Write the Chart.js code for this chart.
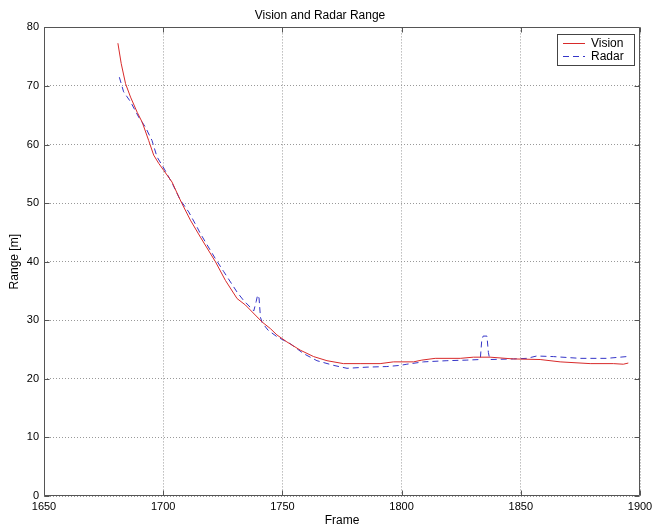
<!DOCTYPE html>
<html>
<head>
<meta charset="utf-8">
<script src="https://cdn.jsdelivr.net/npm/chart.js@4.4.0/dist/chart.umd.min.js"></script>
<style>
    html, body { margin: 0; padding: 0; background: #fff; }
</style>
</head>
<body>
<canvas id="rangeChart" width="652" height="531"></canvas>
<script>
// Vision (red, solid)
const visionFrames = [1681, 1682.4, 1684.2, 1686.3, 1689.1, 1691.2, 1693.9, 1696.0, 1698.1, 1700.2,
    1703.7, 1706.5, 1707.9, 1711.4, 1715.6, 1721.9, 1726.1, 1731.0, 1734.5,
    1738.6, 1741.5, 1744.9, 1747.7, 1751.9, 1757.5, 1763.1, 1768.7, 1775.6, 1782.6,
    1791.0, 1796.6, 1805.0, 1808.5, 1814.1, 1824.6, 1830.1, 1837.1, 1846.9, 1858.1,
    1866.5, 1879.1, 1888.8, 1893.0, 1895.1];
const visionRange = [77.3, 73.8, 70.4, 68.1, 65.5, 63.8, 60.7, 58.2, 56.8, 55.6,
    53.6, 51.1, 49.9, 47.1, 44.2, 40.0, 36.8, 33.7, 32.6,
    30.9, 29.7, 28.6, 27.5, 26.3, 24.9, 23.8, 23.1, 22.6, 22.6,
    22.6, 22.9, 22.9, 23.2, 23.5, 23.5, 23.7, 23.7, 23.4, 23.3,
    22.9, 22.6, 22.6, 22.5, 22.7];

// Radar (blue, dashed)
const radarFrames = [1681.6, 1683.4, 1686.3, 1689.7, 1692.5, 1695.3, 1697.4, 1700.5, 1704.0, 1707.2,
    1710.7, 1714.2, 1715.6, 1721.9, 1725.4, 1731.0, 1733.7, 1738.0, 1739.0, 1739.6,
    1740.2, 1740.8, 1741.5, 1744.0, 1747.7, 1753.3, 1758.9, 1764.5, 1771.5, 1777.1,
    1785.5, 1793.8, 1799.4, 1802.2, 1809.2, 1819.0, 1827.4, 1833.0, 1833.6, 1834.2,
    1835.8, 1836.4, 1837.0, 1846.9, 1852.5, 1856.7, 1863.7, 1874.9, 1886.0, 1894.4];
const radarRange = [71.5, 69.0, 67.3, 64.7, 63.0, 60.7, 57.9, 55.8, 53.2, 50.5,
    48.5, 45.9, 44.8, 40.5, 38.3, 34.8, 33.4, 31.6, 33.2, 34.3,
    33.8, 30.5, 29.6, 28.3, 27.2, 26.0, 24.3, 23.1, 22.3, 21.8,
    22.0, 22.1, 22.3, 22.5, 22.9, 23.1, 23.2, 23.3, 26.5, 27.3,
    27.3, 24.5, 23.3, 23.4, 23.5, 23.9, 23.8, 23.5, 23.5, 23.8];

const xTicks = [1650, 1700, 1750, 1800, 1850, 1900];
const yTicks = [0, 10, 20, 30, 40, 50, 60, 70, 80];

const VISION_COLOR = '#d82a2a';
const RADAR_COLOR = '#3535c8';
const RADAR_DASH = [6, 4];

const FONT = '"Liberation Sans", Arial, Helvetica, sans-serif';
Chart.defaults.font.family = FONT;
Chart.defaults.color = '#000';

function toPoints(xs, ys) {
    return xs.map((x, i) => ({ x: x, y: ys[i] }));
}

// box around the axes with inward ticks, plus the legend inside the plot
const axesBox = {
    id: 'axesBox',
    afterDraw(chart) {
        const { ctx, chartArea: a, scales: { x, y } } = chart;
        const L = Math.round(a.left) + 0.5, R = Math.round(a.right) - 0.5;
        const T = Math.round(a.top) + 0.5, B = Math.round(a.bottom) - 0.5;
        ctx.save();
        ctx.strokeStyle = '#555';
        ctx.lineWidth = 1;
        ctx.beginPath();
        ctx.rect(L, T, R - L, B - T);
        xTicks.forEach(v => {
            const px = Math.round(x.getPixelForValue(v)) + 0.5;
            ctx.moveTo(px, B); ctx.lineTo(px, B - 5);
            ctx.moveTo(px, T); ctx.lineTo(px, T + 5);
        });
        yTicks.forEach(v => {
            const py = Math.round(y.getPixelForValue(v)) + 0.5;
            ctx.moveTo(L, py); ctx.lineTo(L + 5, py);
            ctx.moveTo(R, py); ctx.lineTo(R - 5, py);
        });
        ctx.stroke();

        // legend
        const bx = 557.5, by = 34.5, bw = 77, bh = 31;
        ctx.fillStyle = '#fff';
        ctx.fillRect(bx, by, bw, bh);
        ctx.strokeStyle = '#444';
        ctx.strokeRect(bx, by, bw, bh);
        ctx.font = '12px ' + FONT;
        ctx.textBaseline = 'middle';
        ctx.textAlign = 'left';
        const entries = [
            { label: 'Vision', color: VISION_COLOR, dash: [] },
            { label: 'Radar', color: RADAR_COLOR, dash: RADAR_DASH }
        ];
        entries.forEach((e, i) => {
            const ly = 43.5 + i * 13;
            ctx.beginPath();
            ctx.strokeStyle = e.color;
            ctx.setLineDash(e.dash);
            ctx.moveTo(563, ly);
            ctx.lineTo(585, ly);
            ctx.stroke();
            ctx.setLineDash([]);
            ctx.fillStyle = '#000';
            ctx.fillText(e.label, 591, ly);
        });
        ctx.restore();
    }
};

new Chart(document.getElementById('rangeChart'), {
    type: 'scatter',
    data: {
        datasets: [{
            label: 'Vision',
            data: toPoints(visionFrames, visionRange),
            showLine: true,
            borderColor: VISION_COLOR,
            borderWidth: 1,
            pointRadius: 0,
            tension: 0
        }, {
            label: 'Radar',
            data: toPoints(radarFrames, radarRange),
            showLine: true,
            borderColor: RADAR_COLOR,
            borderWidth: 1,
            borderDash: RADAR_DASH,
            pointRadius: 0,
            tension: 0
        }]
    },
    options: {
        responsive: false,
        animation: false,
        layout: { padding: { left: 0, right: 12, top: 0, bottom: 0 } },
        plugins: {
            legend: { display: false },
            tooltip: { enabled: false },
            title: {
                display: true,
                text: 'Vision and Radar Range',
                font: { size: 12, weight: 'normal' },
                color: '#000',
                padding: { top: 8, bottom: 5 }
            }
        },
        scales: {
            x: {
                type: 'linear',
                min: 1650,
                max: 1900,
                afterBuildTicks: s => { s.ticks = xTicks.map(v => ({ value: v })); },
                afterFit: s => { s.height = 35; s.paddingLeft = 0; s.paddingRight = 0; },
                ticks: { font: { size: 11 }, padding: 4, maxRotation: 0, callback: v => String(v) },
                grid: { color: '#999', drawTicks: false },
                border: { display: false, dash: [1, 2] },
                title: {
                    display: true,
                    text: 'Frame',
                    font: { size: 12 },
                    padding: { top: 0, bottom: 3 }
                }
            },
            y: {
                min: 0,
                max: 80,
                afterBuildTicks: s => { s.ticks = yTicks.map(v => ({ value: v })); },
                afterFit: s => { s.width = 44; },
                ticks: { font: { size: 11 }, padding: 5, callback: v => String(v) },
                grid: { color: '#999', drawTicks: false },
                border: { display: false, dash: [1, 2] },
                title: {
                    display: true,
                    text: 'Range [m]',
                    font: { size: 12 },
                    padding: { top: 7, bottom: 0 }
                }
            }
        }
    },
    plugins: [axesBox]
});
</script>
</body>
</html>
